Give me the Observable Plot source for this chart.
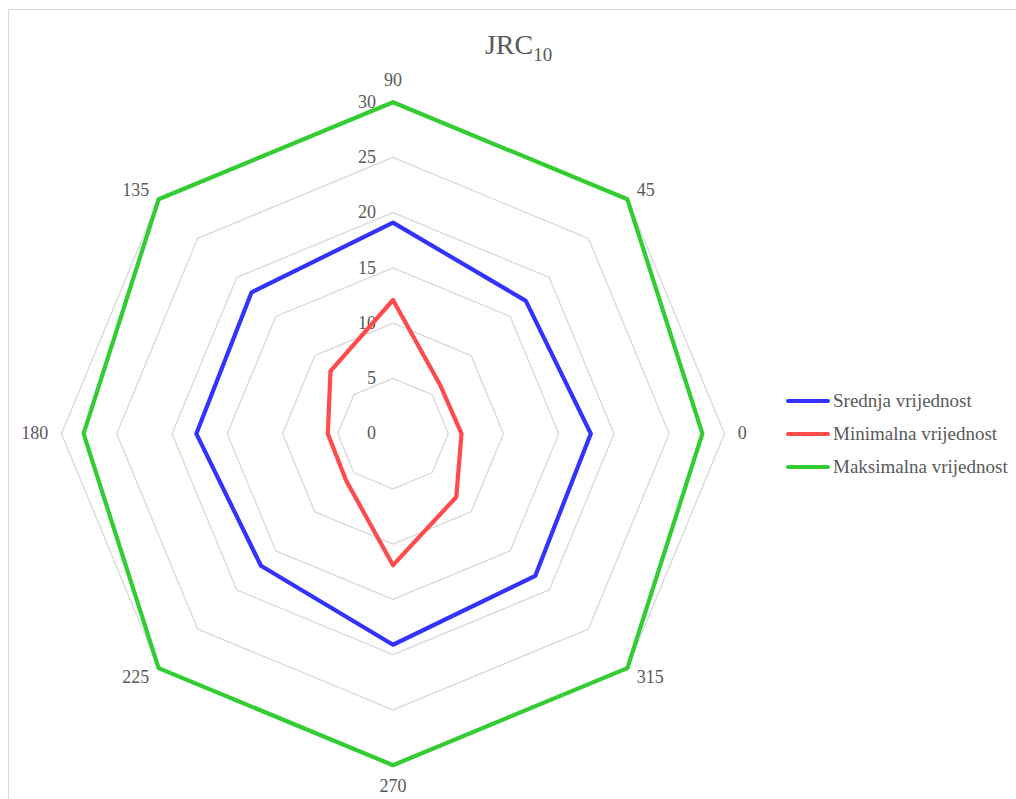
<!DOCTYPE html>
<html>
<head>
<meta charset="utf-8">
<script src="https://cdn.jsdelivr.net/npm/d3@7"></script>
<script src="https://cdn.jsdelivr.net/npm/@observablehq/plot@0.6"></script>
<style>
  html, body { margin: 0; padding: 0; background: #fff; overflow: hidden; }
  #wrap { position: relative; width: 1016px; height: 799px; overflow: hidden; font-family: "Liberation Serif", "Times New Roman", serif; }
  #frame { position: absolute; left: 8px; top: 9px; width: 1100px; height: 900px; border: 1.5px solid #d9d9d9; box-sizing: border-box; }
  #chart { position: absolute; left: 0; top: 0; }
  #title { position: absolute; left: 0; width: 1037px; top: 29px; text-align: center; font-size: 28px; color: #595959; }
  #title sub { font-size: 19px; vertical-align: -7px; line-height: 0; }
  #legend { position: absolute; left: 786px; top: 384px; font-size: 19px; color: #595959; }
  .item { display: flex; align-items: center; height: 33px; }
  .sw { width: 44px; height: 4px; border-radius: 2px; margin-right: 3px; }
</style>
</head>
<body>
<div id="wrap">
  <div id="frame"></div>
  <div id="chart"></div>
  <div id="title">JRC<sub>10</sub></div>
  <div id="legend"></div>
</div>
<script>
const angles = [0, 45, 90, 135, 180, 225, 270, 315];
const angleLabels = ["0", "45", "90", "135", "180", "225", "270", "315"];
const srednja = [17.9, 17.0, 19.1, 18.1, 17.8, 16.9, 19.1, 18.2];
const minimalna = [6.2, 6.1, 12.1, 8.0, 5.9, 6.0, 11.9, 8.1];
const maksimalna = [28, 30, 30, 30, 28, 30, 30, 30];
const gridLevels = [5, 10, 15, 20, 25, 30];
const tickValues = [0, 5, 10, 15, 20, 25, 30];
const seriesNames = ["Srednja vrijednost", "Minimalna vrijednost", "Maksimalna vrijednost"];
const seriesColors = ["#3333ff", "#ff4b4b", "#33cc33"];
const seriesValues = [srednja, minimalna, maksimalna];

const rad = d => d * Math.PI / 180;
const polar = (r, a) => ({x: r * Math.cos(rad(a)), y: r * Math.sin(rad(a))});

const gridData = gridLevels.flatMap(level => angles.map(a => ({level, ...polar(level, a)})));
const seriesData = seriesNames.flatMap((name, i) =>
  angles.map((a, j) => ({name, ...polar(seriesValues[i][j], a)})));
const labelData = angles.map((a, j) => ({label: angleLabels[j], angle: a, ...polar(31.2, a)}));
const tickData = tickValues.map(v => ({label: String(v), x: 0, y: v}));

const k = 11.05, cx = 392.5, cy = 433.2, W = 1016, H = 799;
const lblStyle = {x: "x", y: "y", text: "label", fontSize: 18, fill: "#595959"};
const cosA = d => Math.cos(rad(d.angle)), sinA = d => Math.sin(rad(d.angle));

const chart = Plot.plot({
  width: W, height: H,
  marginTop: 0, marginRight: 0, marginBottom: 0, marginLeft: 0,
  x: {domain: [-cx / k, (W - cx) / k], range: [0, W], axis: null},
  y: {domain: [-(H - cy) / k, cy / k], range: [H, 0], axis: null},
  style: {fontFamily: "'Liberation Serif', 'Times New Roman', serif", background: "transparent"},
  marks: [
    Plot.line(gridData, {x: "x", y: "y", z: "level", curve: "linear-closed", stroke: "#d9d9d9", strokeWidth: 1.3}),
    Plot.text(tickData, {x: "x", y: "y", text: "label", textAnchor: "end", dx: -17, fontSize: 18, fill: "#595959"}),
    Plot.text(labelData, {...lblStyle, filter: d => cosA(d) > 0.1, textAnchor: "start"}),
    Plot.text(labelData, {...lblStyle, filter: d => cosA(d) < -0.1, textAnchor: "end"}),
    Plot.text(labelData, {...lblStyle, filter: d => Math.abs(cosA(d)) <= 0.1 && sinA(d) > 0, lineAnchor: "bottom", dy: -3}),
    Plot.text(labelData, {...lblStyle, filter: d => Math.abs(cosA(d)) <= 0.1 && sinA(d) < 0, lineAnchor: "top", dy: 1}),
    Plot.line(seriesData, {x: "x", y: "y", z: "name", curve: "linear-closed",
      stroke: d => seriesColors[seriesNames.indexOf(d.name)], strokeWidth: 4.2, strokeLinejoin: "round"})
  ]
});
document.getElementById("chart").appendChild(chart);

const legend = document.getElementById("legend");
seriesNames.forEach((n, i) => {
  const row = document.createElement("div");
  row.className = "item";
  row.innerHTML = `<div class="sw" style="background:${seriesColors[i]}"></div><span>${n}</span>`;
  legend.appendChild(row);
});
</script>
</body>
</html>
